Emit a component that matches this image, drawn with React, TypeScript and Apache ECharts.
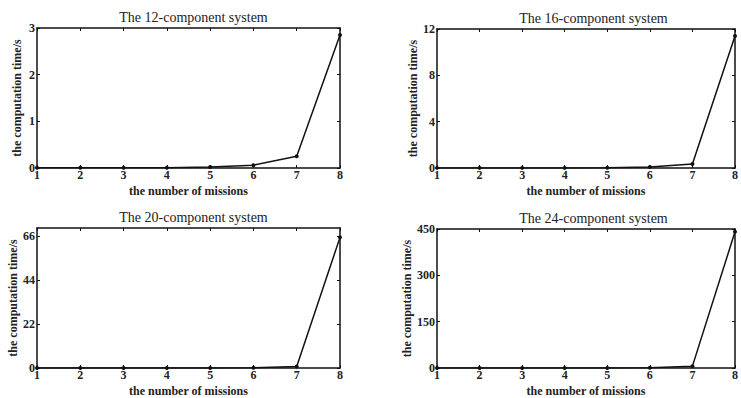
import React, { useEffect, useRef } from "react";
import * as echarts from "echarts";

const missions = [1, 2, 3, 4, 5, 6, 7, 8];
const titles = [
  "The 12-component system",
  "The 16-component system",
  "The 20-component system",
  "The 24-component system",
];
const time12 = [0.005, 0.005, 0.005, 0.005, 0.02, 0.06, 0.25, 2.85];
const time16 = [0.01, 0.01, 0.01, 0.01, 0.02, 0.08, 0.35, 11.4];
const time20 = [0.02, 0.02, 0.02, 0.02, 0.03, 0.1, 0.7, 65.5];
const time24 = [0.1, 0.1, 0.1, 0.1, 0.2, 0.5, 6, 441];
const yTicks12 = [0, 1, 2, 3];
const yTicks16 = [0, 4, 8, 12];
const yTicks20 = [0, 22, 44, 66];
const yTicks24 = [0, 150, 300, 450];
const yMax = [3, 12, 70.2, 450];

export default function App() {
  const ref = useRef<HTMLDivElement>(null);
  useEffect(() => {
    if (!ref.current) return;
    const chart = echarts.init(ref.current, null, { renderer: "svg" });
    const font = "Liberation Serif";
    const grids = [
      { left: 37, top: 28, width: 303, height: 140 },
      { left: 437, top: 29, width: 303, height: 139 },
      { left: 37, top: 228, width: 303, height: 140 },
      { left: 437, top: 229, width: 303, height: 139 },
    ];
    const series = [time12, time16, time20, time24];
    const yTicks = [yTicks12, yTicks16, yTicks20, yTicks24];
    const nameGap = [14, 18, 18, 24];
    const line = { show: true, onZero: false, lineStyle: { color: "#111", width: 1.5 } };
    const xAxis: any[] = [];
    const yAxis: any[] = [];
    grids.forEach((g, i) => {
      xAxis.push({
        type: "value",
        gridIndex: i,
        min: 1,
        max: 8,
        interval: 1,
        name: "the number of missions",
        nameLocation: "middle",
        nameGap: 17,
        nameTextStyle: { fontFamily: font, fontSize: 12, fontWeight: "bold", color: "#222" },
        axisLine: line,
        axisTick: { show: true, inside: true, length: 3, lineStyle: { color: "#111" } },
        axisLabel: { fontFamily: font, fontSize: 12, fontWeight: "bold", color: "#222", margin: 1 },
        splitLine: { show: false },
      });
      xAxis.push({
        type: "value",
        gridIndex: i,
        position: "top",
        min: 1,
        max: 8,
        interval: 1,
        axisLine: line,
        axisTick: { show: true, inside: true, length: 3, lineStyle: { color: "#111" } },
        axisLabel: { show: false },
        splitLine: { show: false },
      });
      yAxis.push({
        type: "value",
        gridIndex: i,
        min: 0,
        max: yMax[i],
        name: "the computation time/s",
        nameLocation: "middle",
        nameGap: nameGap[i],
        nameTextStyle: { fontFamily: font, fontSize: 12, fontWeight: "bold", color: "#222" },
        axisLine: line,
        axisTick: { show: true, inside: true, length: 3, customValues: yTicks[i], lineStyle: { color: "#111" } },
        axisLabel: { fontFamily: font, fontSize: 12, fontWeight: "bold", color: "#222", margin: 2, customValues: yTicks[i] },
        splitLine: { show: false },
      });
      yAxis.push({
        type: "value",
        gridIndex: i,
        position: "right",
        min: 0,
        max: yMax[i],
        axisLine: line,
        axisTick: { show: true, inside: true, length: 3, customValues: yTicks[i], lineStyle: { color: "#111" } },
        axisLabel: { show: false },
        splitLine: { show: false },
      });
    });
    chart.setOption({
      animation: false,
      backgroundColor: "#fff",
      title: titles.map((t, i) => ({
        text: t,
        left: grids[i].left + grids[i].width / 2,
        textAlign: "center",
        top: grids[i].top - 23,
        textStyle: { fontFamily: font, fontSize: 14, fontWeight: "normal", color: "#222" },
      })),
      grid: grids,
      xAxis,
      yAxis,
      series: series.map((d, i) => ({
        type: "line",
        xAxisIndex: i * 2,
        yAxisIndex: i * 2,
        data: d.map((v, k) => [missions[k], v]),
        symbol: "circle",
        symbolSize: 4,
        itemStyle: { color: "#111" },
        lineStyle: { color: "#111", width: 1.5 },
      })),
    });
    return () => chart.dispose();
  }, []);
  return (
    <div
      ref={ref}
      style={{ position: "fixed", left: 0, top: 0, width: 741, height: 398 }}
    />
  );
}
